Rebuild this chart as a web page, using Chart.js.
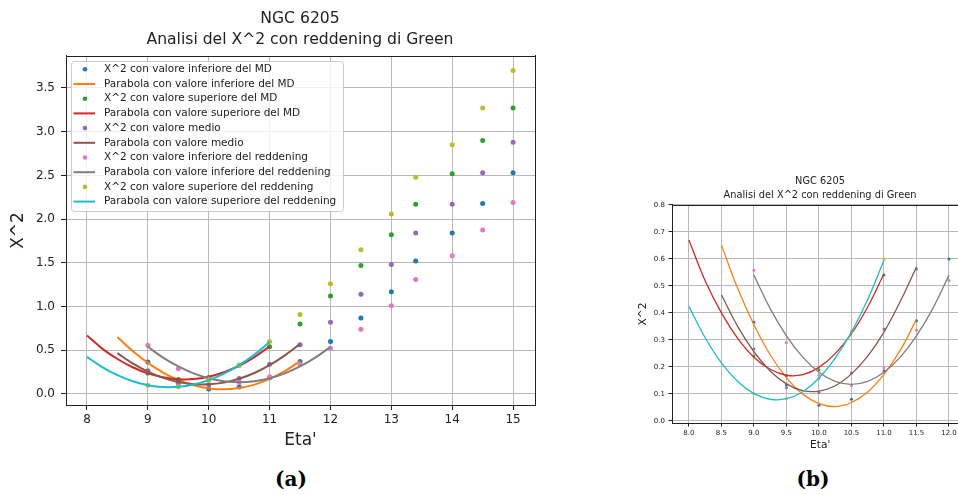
<!DOCTYPE html>
<html><head><meta charset="utf-8">
<script src="https://cdn.jsdelivr.net/npm/chart.js@4.4.0/dist/chart.umd.min.js"></script>
<style>
html,body{margin:0;padding:0;background:#fff;overflow:hidden;width:958px;height:495px;}
#wa{position:absolute;left:0;top:0;width:600px;height:460px;}
#wb{position:absolute;left:630px;top:165px;width:380px;height:300px;}
.cap{position:absolute;top:469px;line-height:20px;font-family:"DejaVu Serif",serif;font-weight:bold;font-size:20px;color:#000;transform:translateX(-50%);white-space:nowrap;}
</style></head><body>
<div id="wa"><canvas id="ca" width="600" height="460"></canvas></div>
<div id="wb"><canvas id="cb" width="380" height="300"></canvas></div>
<div class="cap" style="left:291px">(a)</div>
<div class="cap" style="left:813px">(b)</div>
<script>
// ---- data ----
const titleLines = ['NGC 6205', 'Analisi del X^2 con reddening di Green'];
const xLabel = "Eta'";
const yLabel = 'X^2';
const seriesLabels = [
  'X^2 con valore inferiore del MD',
  'Parabola con valore inferiore del MD',
  'X^2 con valore superiore del MD',
  'Parabola con valore superiore del MD',
  'X^2 con valore medio',
  'Parabola con valore medio',
  'X^2 con valore inferiore del reddening',
  'Parabola con valore inferiore del reddening',
  'X^2 con valore superiore del reddening',
  'Parabola con valore superiore del reddening'
];
const etaPunti = [9, 9.5, 10, 10.5, 11, 11.5, 12, 12.5, 13, 13.4, 14, 14.5, 15];
const chiInfMD  = [0.365, 0.133, 0.058, 0.08, 0.185, 0.371, 0.60, 0.87, 1.17, 1.52, 1.84, 2.18, 2.53];
const chiSupMD  = [0.24, 0.167, 0.189, 0.33, 0.54, 0.80, 1.12, 1.47, 1.82, 2.17, 2.52, 2.90, 3.27];
const chiMedio  = [0.266, 0.123, 0.105, 0.177, 0.34, 0.563, 0.82, 1.14, 1.48, 1.84, 2.17, 2.53, 2.88];
const chiInfRed = [0.558, 0.29, 0.17, 0.13, 0.197, 0.336, 0.52, 0.74, 1.01, 1.31, 1.58, 1.875, 2.19];
const chiSupRed = [0.10, 0.083, 0.158, 0.33, 0.60, 0.91, 1.26, 1.65, 2.06, 2.48, 2.85, 3.27, 3.70];

const etaFit8  = [8, 8.25, 8.5, 8.75, 9, 9.25, 9.5, 9.75, 10, 10.25, 10.5, 10.75, 11];
const etaFit85 = [8.5, 8.75, 9, 9.25, 9.5, 9.75, 10, 10.25, 10.5, 10.75, 11, 11.25, 11.5];
const etaFit9  = [9, 9.25, 9.5, 9.75, 10, 10.25, 10.5, 10.75, 11, 11.25, 11.5, 11.75, 12];
const parInfMD  = [0.652, 0.491, 0.356, 0.245, 0.160, 0.099, 0.064, 0.053, 0.068, 0.107, 0.172, 0.261, 0.376];
const parSupMD  = [0.67, 0.519, 0.40, 0.306, 0.236, 0.191, 0.169, 0.171, 0.198, 0.249, 0.323, 0.422, 0.545];
const parMedio  = [0.467, 0.350, 0.256, 0.185, 0.137, 0.112, 0.110, 0.130, 0.174, 0.240, 0.329, 0.442, 0.57];
const parInfRed = [0.540, 0.416, 0.315, 0.236, 0.180, 0.146, 0.135, 0.146, 0.180, 0.236, 0.315, 0.416, 0.540];
const parSupRed = [0.424, 0.308, 0.215, 0.146, 0.101, 0.080, 0.082, 0.108, 0.158, 0.232, 0.329, 0.450, 0.595];

const xTicksA = [8, 9, 10, 11, 12, 13, 14, 15];
const yTicksA = [0.0, 0.5, 1.0, 1.5, 2.0, 2.5, 3.0, 3.5];
const xTicksB = [8.0, 8.5, 9.0, 9.5, 10.0, 10.5, 11.0, 11.5, 12.0];
const yTicksB = [0.0, 0.1, 0.2, 0.3, 0.4, 0.5, 0.6, 0.7, 0.8];

const colors = ['#1f77b4', '#ff7f0e', '#2ca02c', '#d62728', '#9467bd', '#8c564b', '#e377c2', '#7f7f7f', '#bcbd22', '#17becf'];

// ---- build ----
const FONT = '"DejaVu Sans", sans-serif';
const TXT = '#222';
const pts = (xs, ys) => xs.map((x, i) => ({x: x, y: ys[i]}));
const seriesDefs = [
  [etaPunti, chiInfMD, false], [etaFit85, parInfMD, true],
  [etaPunti, chiSupMD, false], [etaFit8, parSupMD, true],
  [etaPunti, chiMedio, false], [etaFit85, parMedio, true],
  [etaPunti, chiInfRed, false], [etaFit9, parInfRed, true],
  [etaPunti, chiSupRed, false], [etaFit8, parSupRed, true]
];
function makeDatasets(r, lw) {
  return seriesDefs.map((d, i) => ({
    label: seriesLabels[i],
    data: pts(d[0], d[1]),
    showLine: d[2],
    borderColor: colors[i],
    backgroundColor: colors[i],
    borderWidth: d[2] ? lw : 0,
    pointRadius: d[2] ? 0 : r,
    pointBorderWidth: 0,
    tension: 0.4,
    order: 20 - i
  }));
}

const topSpine = {
  id: 'topSpine',
  afterDatasetsDraw(chart) {
    const {ctx, chartArea: a} = chart;
    ctx.save();
    ctx.strokeStyle = TXT; ctx.lineWidth = 1;
    ctx.beginPath();
    const t = Math.round(a.top) + 0.5;
    ctx.moveTo(a.left, t); ctx.lineTo(a.right, t);
    ctx.stroke();
    ctx.restore();
  }
};

const legendA = {
  id: 'legendA',
  afterDraw(chart) {
    const {ctx, chartArea: a} = chart;
    const x0 = a.left + 5, y0 = a.top + 5, w = 272, h = 150;
    ctx.save();
    ctx.fillStyle = 'rgba(255,255,255,0.8)';
    ctx.strokeStyle = '#cccccc'; ctx.lineWidth = 1;
    ctx.beginPath();
    ctx.roundRect(x0 + 0.5, y0 + 0.5, w, h, 3);
    ctx.fill(); ctx.stroke();
    ctx.font = '10.5px ' + FONT;
    ctx.textBaseline = 'middle';
    chart.data.datasets.forEach((ds, i) => {
      const cy = y0 + 8.3 + i * 14.7;
      if (ds.showLine) {
        ctx.strokeStyle = ds.borderColor; ctx.lineWidth = 2;
        ctx.beginPath(); ctx.moveTo(x0 + 2.5, cy); ctx.lineTo(x0 + 24, cy); ctx.stroke();
      } else {
        ctx.fillStyle = ds.backgroundColor;
        ctx.beginPath(); ctx.arc(x0 + 14, cy, 2.3, 0, Math.PI * 2); ctx.fill();
      }
      ctx.fillStyle = TXT;
      ctx.fillText(ds.label, x0 + 33, cy);
    });
    ctx.restore();
  }
};

function scaleCfg(o) {
  return {
    type: 'linear', min: o.min, max: o.max,
    afterBuildTicks: s => { s.ticks = o.ticks.map(v => ({value: v})); },
    afterFit: s => { if (o.axis === 'x') s.height = o.size; else s.width = o.size; },
    grid: {color: '#b8b8b8', lineWidth: 1, tickLength: o.tl, tickColor: TXT, drawTicks: true},
    border: {display: true, color: TXT, width: 1},
    ticks: {font: {family: FONT, size: o.fs}, color: TXT, padding: o.pad, autoSkip: false, maxRotation: 0,
            callback: v => o.fmt(v)},
    title: {display: true, text: o.title, color: TXT, font: {family: FONT, size: o.tfs, lineHeight: 1.2},
            padding: o.tpad}
  };
}
function rightFrame(w) {
  return {
    type: 'linear', position: 'right', display: true, min: 0, max: 1,
    afterFit: s => { s.width = w; },
    grid: {display: false, drawTicks: false},
    border: {display: true, color: TXT, width: 1},
    ticks: {display: false}
  };
}

new Chart(document.getElementById('ca'), {
  type: 'scatter',
  data: {datasets: makeDatasets(2.5, 2)},
  options: {
    responsive: false, animation: false, events: [],
    layout: {padding: 0},
    plugins: {
      legend: {display: false}, tooltip: {enabled: false},
      title: {display: true, text: titleLines, color: TXT,
              font: {family: FONT, size: 15.6, weight: 'normal', lineHeight: 1.33},
              padding: {top: 8.4, bottom: 6.1}}
    },
    scales: {
      x: scaleCfg({axis: 'x', min: 7.655, max: 15.36, ticks: xTicksA, size: 55, tl: 5, fs: 12, pad: 3,
                   fmt: v => String(v), title: xLabel, tfs: 17, tpad: {top: 0, bottom: 8.8}}),
      y: scaleCfg({axis: 'y', min: -0.126, max: 3.866, ticks: yTicksA, size: 66, tl: 5, fs: 12, pad: 6,
                   fmt: v => v.toFixed(1), title: yLabel, tfs: 17, tpad: {top: 8.3, bottom: 0}}),
      yr: rightFrame(65)
    }
  },
  plugins: [topSpine, legendA]
});

new Chart(document.getElementById('cb'), {
  type: 'scatter',
  data: {datasets: makeDatasets(1.5, 1.3)},
  options: {
    responsive: false, animation: false, events: [],
    layout: {padding: 0},
    plugins: {
      legend: {display: false}, tooltip: {enabled: false},
      title: {display: true, text: titleLines, color: TXT,
              font: {family: FONT, size: 9.8, weight: 'normal', lineHeight: 1.36},
              padding: {top: 10, bottom: 3.3}}
    },
    scales: {
      x: scaleCfg({axis: 'x', min: 7.74, max: 12.3, ticks: xTicksB, size: 42, tl: 3.5, fs: 7, pad: 2,
                   fmt: v => v.toFixed(1), title: xLabel, tfs: 10.6, tpad: {top: 0, bottom: 13.6}}),
      y: scaleCfg({axis: 'y', min: -0.008, max: 0.8, ticks: yTicksB, size: 42, tl: 3.5, fs: 7, pad: 3.5,
                   fmt: v => v.toFixed(1), title: yLabel, tfs: 10.6, tpad: {top: 6.6, bottom: 0}}),
      yr: rightFrame(41.5)
    }
  },
  plugins: [topSpine]
});
</script>
</body></html>
